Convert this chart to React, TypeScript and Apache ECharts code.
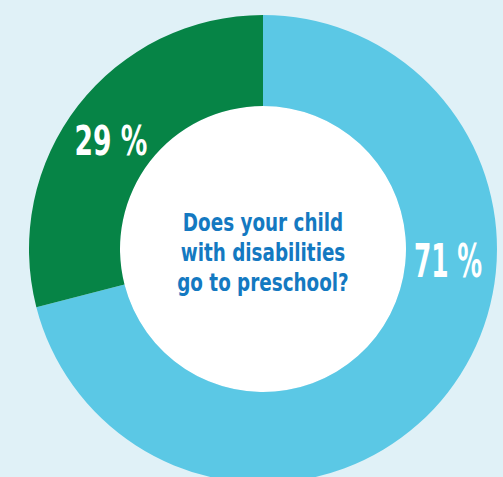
import React, { useEffect, useRef } from "react";
import * as echarts from "echarts";

const categories = ["Yes", "No"];
const values = [71, 29];
const labels = ["71 %", "29 %"];
const question = ["Does your child", "with disabilities", "go to preschool?"];

const COND = '"DejaVu Sans Condensed", "DejaVu Sans", sans-serif';

export default function App() {
  const ref = useRef<HTMLDivElement>(null);
  useEffect(() => {
    if (!ref.current) return;
    const chart = echarts.init(ref.current, undefined, { renderer: "svg" });
    const colors = ["#5BC8E5", "#068446"];
    const labelPos = [[448, 261], [111, 141]];
    const sizes = [46, 41];
    const scales = [0.6, 0.72];
    chart.setOption({
      animation: false,
      backgroundColor: "#E0F1F7",
      series: [
        {
          type: "pie",
          center: [263, 249],
          radius: [143, 234],
          startAngle: 90,
          clockwise: true,
          silent: true,
          label: { show: false },
          labelLine: { show: false },
          data: categories.map((c, i) => ({
            name: c,
            value: values[i],
            itemStyle: { color: colors[i] },
          })),
        },
      ],
      graphic: [
        {
          type: "circle",
          shape: { cx: 263, cy: 249, r: 143 },
          style: { fill: "#FFFFFF" },
          z: -1,
        },
        {
          type: "text",
          x: 263,
          y: 252,
          scaleX: 0.85,
          z: 100,
          style: {
            text: question.join("\n"),
            fill: "#1479C1",
            font: `bold 24px ${COND}`,
            align: "center",
            verticalAlign: "middle",
            lineHeight: 30,
          },
        },
        ...labels.map((t, i) => ({
          type: "text",
          x: labelPos[i][0],
          y: labelPos[i][1],
          scaleX: scales[i],
          z: 100,
          style: {
            text: t,
            fill: "#FFFFFF",
            font: `bold ${sizes[i]}px ${COND}`,
            align: "center",
            verticalAlign: "middle",
          },
        })),
      ],
    });
    return () => chart.dispose();
  }, []);
  return (
    <div
      ref={ref}
      style={{ position: "absolute", left: 0, top: 0, width: 503, height: 477 }}
    />
  );
}
